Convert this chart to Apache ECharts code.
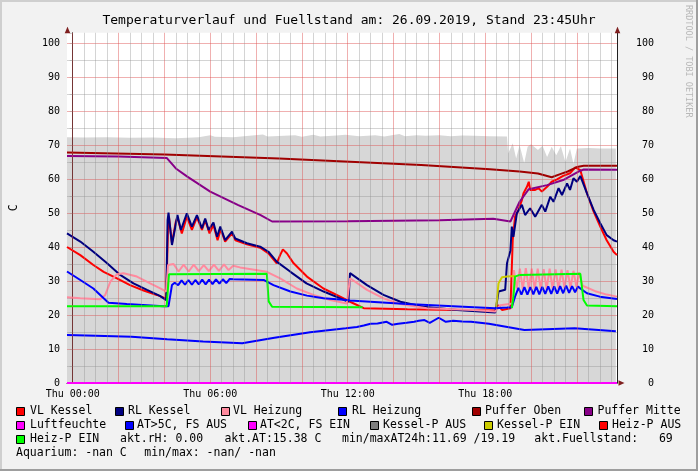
<!DOCTYPE html>
<html><head><meta charset="utf-8">
<script src="https://cdn.jsdelivr.net/npm/echarts@6/dist/echarts.min.js"></script>
<style>html,body{margin:0;padding:0;background:#f2f2f2}#c{width:698px;height:471px}</style>
</head><body><div id="c"></div>
<script>
// ---- data (x = hours since Thu 00:00, y = value) ----
const xTickHours = [0, 6, 12, 18];
const xTickLabels = ['Thu 00:00', 'Thu 06:00', 'Thu 12:00', 'Thu 18:00'];
const yTicks = [0, 10, 20, 30, 40, 50, 60, 70, 80, 90, 100];

const fuellstand = [[-0.25,72.3],[0.5,72.2],[1.5,72.3],[2.5,72.1],[3.5,72.2],[4.5,72.0],[5.5,72.3],[6.0,72.9],[6.2,72.4],[7,72.3],[8.3,73.1],[8.5,72.5],[9.7,72.9],[10.0,72.4],[10.5,73.0],[10.8,72.5],[11.5,72.8],[11.9,73.0],[12.5,72.6],[13.2,72.9],[13.6,72.5],[14.25,73.2],[14.5,72.6],[15.0,72.9],[15.4,72.7],[16.0,72.9],[16.5,72.6],[17.0,72.8],[17.5,72.7],[18.2,72.6],[18.95,72.5],[19.0,67.5],[19.2,70.5],[19.35,66.0],[19.5,70.0],[19.7,64.7],[19.85,69.5],[20.0,70.2],[20.3,68.5],[20.5,69.8],[20.7,66.5],[20.9,69.5],[21.1,67.0],[21.3,69.6],[21.5,65.0],[21.7,69.0],[21.85,64.5],[22.0,69.0],[22.5,69.1],[23.0,69.0],[23.7,69.0]];

const vlKessel = [[-0.25,40.0],[0.33,37.6],[0.9,34.7],[1.35,32.7],[1.93,30.8],[2.5,28.8],[3.09,27.2],[3.67,25.9],[4.08,24.8],[4.16,46.5],[4.2,48.9],[4.33,41.1],[4.5,47.5],[4.57,48.7],[4.76,44.0],[4.98,48.9],[5.2,45.0],[5.42,48.7],[5.64,45.0],[5.78,47.9],[5.97,44.0],[6.14,46.5],[6.32,42.0],[6.46,45.2],[6.65,41.6],[6.95,44.0],[7.1,42.0],[7.17,42.5],[7.6,40.8],[8.18,39.8],[8.54,38.1],[8.9,35.2],[9.05,37.6],[9.17,39.3],[9.35,38.1],[9.64,35.2],[10.22,31.3],[10.94,27.8],[11.67,25.4],[12.1,23.9],[12.7,22.0],[14.6,21.7],[18.44,21.3],[18.55,22.9],[18.73,21.5],[19.1,22.0],[19.2,42.0],[19.3,48.9],[19.45,50.9],[19.6,53.8],[19.67,55.8],[19.82,57.7],[19.9,59.2],[19.96,56.8],[20.18,56.8],[20.33,57.3],[20.47,56.3],[20.7,57.7],[20.9,59.2],[21.13,59.9],[21.4,60.9],[21.7,61.7],[21.93,63.4],[22.15,62.6],[22.44,55.8],[22.73,50.4],[23.02,46.0],[23.3,42.0],[23.6,38.6],[23.75,37.6]];

const rlKessel = [[-0.25,44.0],[0.33,41.6],[0.9,38.6],[1.5,35.2],[2.07,31.8],[2.65,29.3],[3.24,27.4],[3.8,25.6],[4.08,24.4],[4.14,47.9],[4.18,50.1],[4.33,40.6],[4.57,49.4],[4.72,45.0],[4.98,49.9],[5.2,46.0],[5.42,49.4],[5.64,45.5],[5.78,48.4],[5.93,45.0],[6.14,47.2],[6.3,43.0],[6.44,46.0],[6.65,42.0],[6.95,44.5],[7.09,42.5],[7.17,42.9],[7.6,41.1],[8.18,40.1],[8.54,38.6],[8.9,35.7],[9.5,32.7],[10.2,29.3],[10.95,26.9],[11.67,24.9],[12.03,23.9],[12.1,32.3],[12.84,28.8],[13.56,25.9],[14.3,23.9],[15.3,22.4],[16.77,21.5],[18.44,20.7],[18.58,26.9],[18.87,27.4],[18.95,35.2],[19.1,39.0],[19.16,46.0],[19.23,43.0],[19.38,49.9],[19.6,52.4],[19.74,49.4],[19.96,51.4],[20.18,48.9],[20.47,52.4],[20.62,50.4],[20.84,54.8],[20.98,53.3],[21.2,57.3],[21.35,55.3],[21.57,58.7],[21.7,56.8],[21.85,60.2],[22.0,59.2],[22.15,60.9],[22.22,59.7],[22.44,55.8],[22.73,50.9],[23.02,47.0],[23.3,43.5],[23.6,42.0],[23.75,41.6]];

const vlHeizung = [[-0.25,25.2],[0.33,24.9],[1.2,24.6],[1.42,25.9],[1.64,29.8],[1.93,32.0],[2.22,32.3],[2.8,31.3],[3.38,29.3],[3.82,27.8],[4.08,26.9],[4.16,34.7],[4.4,35.0],[4.62,32.8],[4.84,34.8],[5.06,32.8],[5.28,34.8],[5.5,32.9],[5.72,34.7],[5.94,32.9],[6.16,34.8],[6.38,33.0],[6.6,34.9],[6.8,33.2],[7.0,34.5],[7.3,34.0],[8.47,32.7],[9.05,30.8],[9.78,27.8],[10.5,25.9],[11.24,24.4],[11.96,23.4],[12.1,30.8],[12.84,27.4],[13.56,24.9],[14.3,23.2],[15.45,22.0],[17.5,21.5],[18.44,21.0],[18.65,22.9],[19.2,23.4],[19.25,33.2],[19.38,27.8],[19.51,33.6],[19.64,27.6],[19.77,33.8],[19.9,27.8],[20.03,33.6],[20.16,27.6],[20.29,33.6],[20.42,27.7],[20.55,33.5],[20.68,27.6],[20.81,33.6],[20.94,27.8],[21.07,33.4],[21.2,27.8],[21.33,33.3],[21.46,28.0],[21.59,33.2],[21.72,28.0],[21.85,33.0],[21.98,28.3],[22.1,32.5],[22.25,28.6],[22.8,27.0],[23.3,26.0],[23.75,25.4]];

const rlHeizung = [[-0.25,32.8],[0.33,30.3],[0.9,27.8],[1.35,24.9],[1.56,23.6],[2.36,23.2],[3.24,22.9],[3.96,22.6],[4.18,22.6],[4.33,28.8],[4.45,29.5],[4.6,28.8],[4.75,30.2],[4.9,28.9],[5.05,30.3],[5.2,28.9],[5.35,30.3],[5.5,29.0],[5.65,30.4],[5.8,29.0],[5.95,30.4],[6.1,29.1],[6.25,30.5],[6.4,29.2],[6.55,30.5],[6.7,29.4],[6.85,30.6],[7.0,30.5],[8.33,30.3],[8.76,28.8],[9.5,26.9],[10.22,25.7],[10.94,24.9],[11.96,24.4],[12.1,24.3],[14.58,23.2],[17.5,22.3],[18.44,22.0],[18.95,22.2],[19.16,22.3],[19.3,25.4],[19.45,28.0],[19.58,26.0],[19.71,28.2],[19.84,26.0],[19.97,28.2],[20.1,26.1],[20.23,28.3],[20.36,26.1],[20.49,28.3],[20.62,26.2],[20.75,28.4],[20.88,26.2],[21.01,28.4],[21.14,26.3],[21.27,28.5],[21.4,26.4],[21.53,28.6],[21.66,26.5],[21.79,28.5],[21.92,26.7],[22.05,28.4],[22.15,27.8],[22.44,26.4],[23.0,25.4],[23.75,24.7]];

const pufferOben = [[-0.25,67.8],[4,67.2],[9,66.0],[15.2,64.1],[18.2,62.9],[19.5,62.2],[20.3,61.6],[20.9,60.5],[21.3,61.5],[21.6,62.2],[22.0,63.5],[22.3,63.9],[23.75,63.9]];

const pufferMitte = [[-0.25,66.8],[2,66.6],[4.1,66.2],[4.5,63.1],[5.0,60.7],[6.0,56.3],[7.2,52.4],[8.2,49.4],[8.7,47.5],[12,47.6],[16,47.9],[18.35,48.3],[19.1,47.5],[19.5,53.3],[19.9,57.0],[20.7,58.2],[21.4,59.7],[22.07,62.2],[22.3,62.8],[23.75,62.7]];

const luftfeuchte = [[-0.25,0],[23.75,0]];

const aussenTemp = [[-0.25,14.1],[1,13.9],[2.57,13.6],[4.12,12.85],[5.69,12.2],[7.4,11.69],[8.8,13.3],[10.36,14.9],[11.92,16.1],[12.4,16.5],[12.7,16.9],[13.0,17.4],[13.3,17.5],[13.7,18.0],[13.94,17.1],[14.2,17.4],[14.57,17.7],[14.9,18.0],[15.1,18.3],[15.35,18.5],[15.58,17.7],[15.97,19.19],[16.28,18.0],[16.6,18.3],[17.0,18.1],[17.38,18.0],[18.16,17.4],[19.71,15.6],[21.9,16.1],[23.7,15.2]];

const kesselPEin = [[18.48,22.4],[18.58,29.3],[18.73,31.1],[18.95,31.3],[19.3,31.5]];

const heizPEin = [[-0.25,22.6],[4.1,22.6],[4.2,32.0],[8.47,32.1],[8.55,24.0],[8.7,22.4],[12.65,22.3],[15,null],[19.16,22.0],[19.23,25.4],[19.3,31.3],[19.5,31.8],[22.15,32.1],[22.29,24.4],[22.44,22.8],[23.75,22.6]];

// ---- layout / style ----
const FONT = 'DejaVu Sans Mono';
const G = {left: 67, top: 32.8, width: 550, height: 350.2};
const Y_MAX = 103;
const X_MIN = -0.25, X_MAX = 23.75;
const MINOR = 'rgba(143,143,143,0.38)';
const MAJOR = 'rgba(222,79,79,0.45)';

const gridLines = [];
for (let h = 0; h <= 23.5; h += 0.5) {
  gridLines.push({xAxis: h, lineStyle: {color: (h % 2 === 0) ? MAJOR : MINOR, width: 1, type: 'solid'}});
}

function line(name, data, color, extra) {
  return Object.assign({
    name, type: 'line', data, xAxisIndex: 0, yAxisIndex: 0,
    showSymbol: false, symbol: 'none', animation: false, z: 3,
    lineStyle: {color, width: 2}, itemStyle: {color}, connectNulls: false
  }, extra || {});
}

const legendRows = [
  [[16,30,'VL Kessel','#ff0000'],[115,128,'RL Kessel','#000080'],[221,233,'VL Heizung','#ff8a9e'],[338,352,'RL Heizung','#0000ff'],[472,485,'Puffer Oben','#a00000'],[584,597.5,'Puffer Mitte','#880088']],
  [[16,30,'Luftfeuchte','#ff00ff'],[125,137,'AT>5C, FS AUS','#0000ff'],[248,260,'AT<2C, FS EIN','#ff00ff'],[370,383,'Kessel-P AUS','#808080'],[484,497,'Kessel-P EIN','#cccc00'],[599,612,'Heiz-P AUS','#ff0000']],
  [[16,30,'Heiz-P EIN','#00ff00'],[null,120,'akt.rH: 0.00'],[null,224.4,'akt.AT:15.38 C'],[null,342,'min/maxAT24h:11.69 /19.19'],[null,534.3,'akt.Fuellstand:   69']],
  [[null,16,'Aquarium: -nan C'],[null,144.3,'min/max: -nan/ -nan']]
];
const rowY = [411.3, 425.3, 439.3, 453.3];

const graphics = [];
// frame shading
graphics.push({type:'rect', shape:{x:0,y:0,width:698,height:2}, style:{fill:'#cfcfcf'}, z:20});
graphics.push({type:'rect', shape:{x:0,y:0,width:2,height:471}, style:{fill:'#cfcfcf'}, z:20});
graphics.push({type:'rect', shape:{x:696,y:0,width:2,height:471}, style:{fill:'#9e9e9e'}, z:21});
graphics.push({type:'rect', shape:{x:0,y:469,width:698,height:2}, style:{fill:'#9e9e9e'}, z:21});
// watermark
graphics.push({type:'text', x:688, y:5, rotation:-Math.PI/2, z:20,
  style:{text:'RRDTOOL / TOBI OETIKER', font:'8.5px "'+FONT+'"', fill:'#b8b8b8', verticalAlign:'middle', align:'left'}});
// legend
legendRows.forEach((row, ri) => {
  row.forEach(it => {
    const [bx, tx, txt, col] = it;
    if (bx !== null) {
      graphics.push({type:'rect', shape:{x:bx+0.5, y:Math.round(rowY[ri]-4)+0.5, width:8, height:8},
        style:{fill:col, stroke:'#000', lineWidth:1}, z:20});
    }
    graphics.push({type:'text', x:tx, y:rowY[ri], z:20,
      style:{text:txt, font:'11.5px "'+FONT+'"', fill:'#000', verticalAlign:'middle', align:'left'}});
  });
});
// axis arrows
const ARROW = '#7f1f1f';
const yTopPx = G.top, xL = G.left + 0.5, xR = G.left + G.width + 0.5, yBot = G.top + G.height;
[xL, xR].forEach(ax => {
  graphics.push({type:'polygon', shape:{points:[[ax-2.8, yTopPx+0.5],[ax+2.8, yTopPx+0.5],[ax, yTopPx-6]]}, style:{fill:ARROW}, z:22});
  graphics.push({type:'line', shape:{x1:ax, y1:yTopPx-5, x2:ax, y2:yTopPx}, style:{stroke:'#1f1f1f', lineWidth:1}, z:21});
});
graphics.push({type:'polygon', shape:{points:[[xR+1, yBot-2.8],[xR+1, yBot+2.8],[xR+7, yBot]]}, style:{fill:ARROW}, z:22});

const chart = echarts.init(document.getElementById('c'), null, {renderer:'canvas'});
chart.setOption({
  animation: false,
  backgroundColor: '#f2f2f2',
  title: {text:'Temperaturverlauf und Fuellstand am: 26.09.2019, Stand 23:45Uhr', left:'center', top:9,
    textStyle:{fontFamily:FONT, fontSize:13, fontWeight:'normal', color:'#000'}},
  grid: {left:G.left, top:G.top, width:G.width, height:G.height, show:true, backgroundColor:'#ffffff', borderWidth:0, z:0},
  xAxis: [{
    type:'value', min:X_MIN, max:X_MAX, z:2,
    axisLine:{show:true, lineStyle:{color:'#1f1f1f', width:1}},
    axisTick:{show:false},
    splitLine:{show:false},
    axisLabel:{customValues:xTickHours, margin:6, fontFamily:FONT, fontSize:10, color:'#000',
      formatter:(v)=>{const i = xTickHours.indexOf(v); return i>=0 ? xTickLabels[i] : '';}}
  }],
  yAxis: [{
    type:'value', position:'left', min:0, max:Y_MAX, interval:5, z:2,
    name:'C', nameLocation:'middle', nameGap:47, nameTextStyle:{fontFamily:FONT, fontSize:11.5, color:'#000'},
    axisLine:{show:true, lineStyle:{color:'#1f1f1f', width:1}},
    axisTick:{show:true, length:3, lineStyle:{color:MINOR}},
    splitLine:{show:true, showMaxLine:false, lineStyle:{color:['rgba(0,0,0,0)', MINOR], width:1}},
    axisLabel:{margin:7, fontFamily:FONT, fontSize:10, color:'#000',
      formatter:(v)=> yTicks.indexOf(v)>=0 ? String(v) : ''}
  },{
    type:'value', position:'right', min:0, max:Y_MAX, interval:10, z:2,
    axisLine:{show:true, lineStyle:{color:'#1f1f1f', width:1}},
    axisTick:{show:false},
    splitLine:{show:true, showMaxLine:false, lineStyle:{color:MAJOR, width:1}},
    axisLabel:{margin:37, align:'right', fontFamily:FONT, fontSize:10, color:'#000',
      formatter:(v)=> yTicks.indexOf(v)>=0 ? String(v) : ''}
  }],
  graphic: graphics,
  series: [
    {name:'Fuellstand', type:'line', data:fuellstand, showSymbol:false, symbol:'none', z:1,
      lineStyle:{width:0}, itemStyle:{color:'#d7d7d7'}, areaStyle:{color:'#d7d7d7', opacity:1}},
    {name:'grid', type:'line', data:[], z:2, silent:true,
      markLine:{silent:true, symbol:['none','none'], label:{show:false}, animation:false, data:gridLines}},
    line('VL Kessel', vlKessel, '#ff0000'),
    line('RL Kessel', rlKessel, '#000080'),
    line('VL Heizung', vlHeizung, '#ff8a9e'),
    line('RL Heizung', rlHeizung, '#0000ff'),
    line('Puffer Oben', pufferOben, '#a00000'),
    line('Puffer Mitte', pufferMitte, '#880088'),
    line('Luftfeuchte', luftfeuchte, '#ff00ff'),
    line('AT', aussenTemp, '#0000ff'),
    line('Kessel-P EIN', kesselPEin, '#cccc00'),
    line('Heiz-P EIN', heizPEin, '#00ff00')
  ]
});
</script>
</body></html>
